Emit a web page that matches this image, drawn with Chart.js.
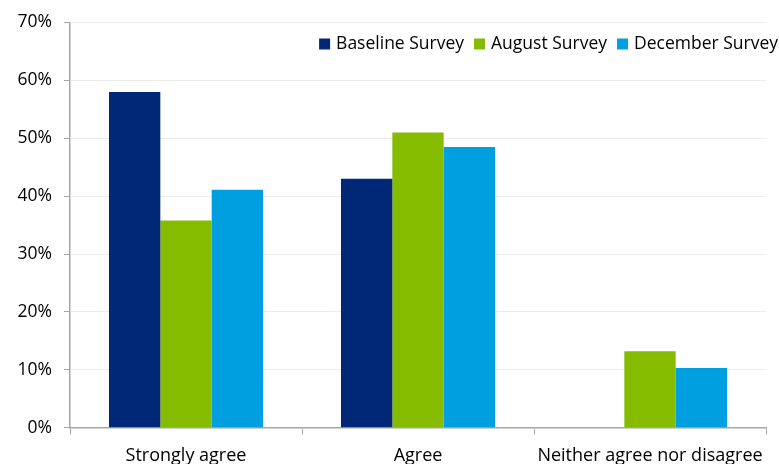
<!DOCTYPE html>
<html>
<head>
<meta charset="utf-8">
<script src="https://cdn.jsdelivr.net/npm/chart.js@4/dist/chart.umd.min.js"></script>
<style>
  html, body { margin: 0; padding: 0; background: #ffffff; }
  #wrap { width: 779px; height: 464px; position: relative; }
</style>
</head>
<body>
<div id="wrap"><canvas id="chart" width="779" height="464"></canvas></div>
<script>
// Survey responses by wave (percent of respondents)
const categories = ['Strongly agree', 'Agree', 'Neither agree nor disagree'];
const baselineSurvey = [58.0, 43.0, null];
const augustSurvey = [35.8, 51.0, 13.2];
const decemberSurvey = [41.1, 48.5, 10.3];
const seriesNames = ['Baseline Survey', 'August Survey', 'December Survey'];
const yTicks = [0, 10, 20, 30, 40, 50, 60, 70];

const FONT = "'Open Sans', 'Noto Sans', sans-serif";
const colors = ['#002876', '#85bc00', '#00a0e0'];

// Legend drawn inside the plot, right-aligned at the top
const insideLegend = {
  id: 'insideLegend',
  afterDraw(chart) {
    const ctx = chart.ctx;
    const box = 11, gapText = 6, gapItem = 10;
    ctx.save();
    ctx.font = '17.5px ' + FONT;
    ctx.textBaseline = 'middle';
    const items = chart.data.datasets.map(ds => ({
      label: ds.label, color: ds.backgroundColor, w: ctx.measureText(ds.label).width
    }));
    let total = 0;
    items.forEach((it, i) => { total += box + gapText + it.w + (i < items.length - 1 ? gapItem : 0); });
    let x = 778 - total;
    const cy = 44.5;
    items.forEach(it => {
      ctx.fillStyle = it.color;
      ctx.fillRect(x, cy - box / 2 - 0.5, box, box);
      x += box + gapText;
      ctx.fillStyle = '#000000';
      ctx.fillText(it.label, x, cy);
      x += it.w + gapItem;
    });
    ctx.restore();
  }
};

new Chart(document.getElementById('chart'), {
  type: 'bar',
  data: {
    labels: categories,
    datasets: [
      { label: seriesNames[0], data: baselineSurvey, backgroundColor: colors[0] },
      { label: seriesNames[1], data: augustSurvey, backgroundColor: colors[1] },
      { label: seriesNames[2], data: decemberSurvey, backgroundColor: colors[2] }
    ]
  },
  options: {
    responsive: false,
    animation: false,
    devicePixelRatio: 1,
    layout: { padding: { top: 21, right: 13, left: 0, bottom: 0 } },
    datasets: { bar: { categoryPercentage: 0.664, barPercentage: 1.0, borderWidth: 0 } },
    plugins: {
      legend: { display: false },
      tooltip: { enabled: false }
    },
    scales: {
      x: {
        offset: true,
        grid: { display: true, offset: true, drawOnChartArea: false, tickLength: 7, tickColor: '#a6a6a6', lineWidth: 1 },
        border: { color: '#a6a6a6', width: 1.5 },
        ticks: { color: '#000000', font: { family: FONT, size: 18 }, padding: 10, maxRotation: 0, autoSkip: false },
        afterFit(scale) { scale.height = 36.3; }
      },
      y: {
        min: 0,
        max: 70,
        afterBuildTicks(scale) { scale.ticks = yTicks.map(v => ({ value: v })); },
        grid: { color: '#ececec', tickColor: '#a6a6a6', tickLength: 6, lineWidth: 1 },
        border: { color: '#a6a6a6', width: 1.5 },
        ticks: {
          color: '#000000', font: { family: FONT, size: 17.5 }, padding: 12,
          callback: v => v + '%'
        },
        afterFit(scale) { scale.width = 70; }
      }
    }
  },
  plugins: [insideLegend]
});
</script>
</body>
</html>
